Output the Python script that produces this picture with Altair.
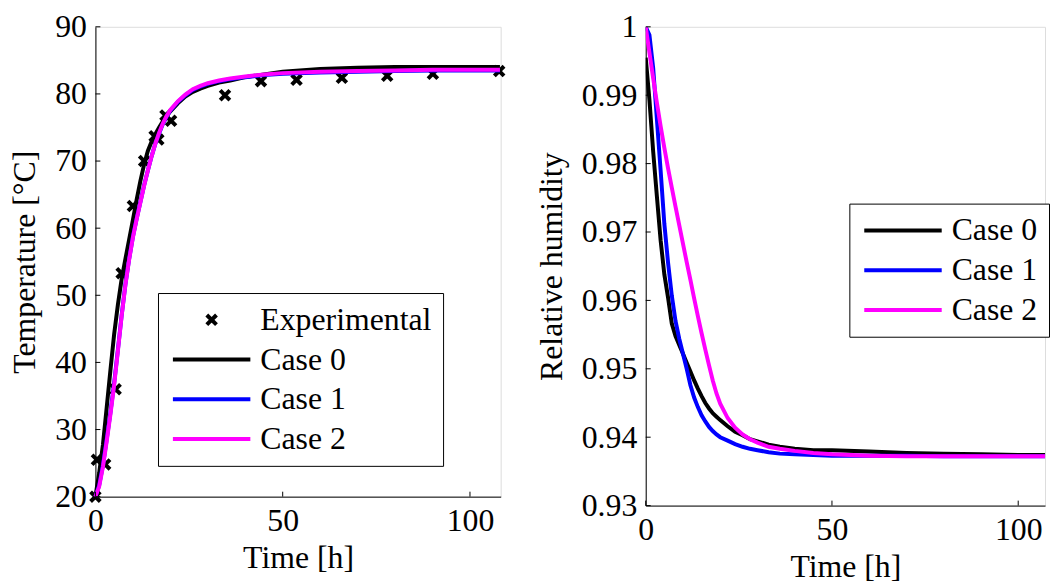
import altair as alt
import pandas as pd

# ---------------- data: left panel (temperature) ----------------
t_time = [0, 1, 2, 3, 4, 5, 6, 7, 8, 9, 10, 11, 12, 13, 14, 15, 16, 17, 18, 19, 20,
          22, 24, 26, 28, 30, 33, 36, 40, 45, 50, 60, 70, 80, 90, 100, 108]
t_case0 = [20, 23.5, 27.7, 33.2, 38.8, 44.2, 48.6, 52.4, 55.4, 58.3, 61.2, 64.2, 67.0, 69.5, 71.5, 72.9, 74.0,
           75.0, 75.9, 76.7, 77.4, 78.6, 79.6, 80.3, 80.8, 81.2, 81.7, 82.0, 82.5, 82.9, 83.3, 83.7, 83.9, 84.0,
           84.0, 84.0, 84.0]
t_case1 = [20, 21.7, 24.7, 28.5, 32.5, 36.9, 41.9, 47.0, 51.6, 55.4, 58.7, 61.4, 63.9, 66.4, 68.6, 70.7, 72.6,
           74.1, 75.5, 76.6, 77.5, 78.8, 79.8, 80.6, 81.1, 81.5, 81.9, 82.2, 82.5, 82.8, 83.0, 83.2, 83.3, 83.4,
           83.5, 83.5, 83.5]
t_case2 = [20, 21.5, 24.4, 28.2, 32.2, 36.6, 41.7, 46.9, 51.5, 55.3, 58.6, 61.3, 63.8, 66.3, 68.6, 70.7, 72.6,
           74.2, 75.6, 76.7, 77.6, 78.9, 79.9, 80.7, 81.2, 81.6, 82.0, 82.3, 82.6, 82.9, 83.1, 83.3, 83.4, 83.5,
           83.6, 83.6, 83.6]
exp_time = [0, 0.4, 2.6, 5.4, 7.0, 10.0, 13.0, 15.8, 16.8, 18.7, 20.2, 34.6, 44.2, 53.7, 65.8, 77.9, 90.1, 107.8]
exp_temp = [20.0, 25.5, 24.8, 36.0, 53.3, 63.3, 70.0, 73.7, 73.2, 76.8, 76.0, 79.8, 81.9, 82.1, 82.4, 82.7, 83.0, 83.4]
t_xticks = [0, 50, 100]
t_yticks = [20, 30, 40, 50, 60, 70, 80, 90]

# ---------------- data: right panel (relative humidity) ----------------
rh_time = [0, 1, 2, 3, 4, 5, 6, 7, 8, 9, 10, 11, 12, 13, 14, 15, 16, 17, 18, 19, 20,
           22, 24, 26, 28, 30, 33, 36, 40, 45, 50, 60, 70, 80, 90, 100, 108]
rh_case0 = [0.9955, 0.9893, 0.9818, 0.9752, 0.9688, 0.9638, 0.9604, 0.9566, 0.9548, 0.9535, 0.9522, 0.9509,
            0.9496, 0.9483, 0.9471, 0.9460, 0.9450, 0.9442, 0.9435, 0.9430, 0.9425, 0.9416, 0.9408, 0.9403,
            0.9397, 0.9394, 0.9389, 0.9386, 0.9383, 0.9381, 0.9381, 0.9379, 0.9377, 0.9376, 0.9375, 0.9374, 0.9374]
rh_case1 = [1.0, 0.9988, 0.9940, 0.9865, 0.9790, 0.9712, 0.9655, 0.9607, 0.9570, 0.9544, 0.9522, 0.9500,
            0.9476, 0.9458, 0.9444, 0.9432, 0.9423, 0.9415, 0.9409, 0.9404, 0.9400, 0.9395, 0.9390, 0.9386,
            0.9383, 0.9381, 0.9378, 0.9376, 0.9375, 0.9374, 0.9373, 0.9373, 0.9373, 0.9372, 0.9372, 0.9372, 0.9372]
rh_case2 = [1.0, 0.9962, 0.9925, 0.9889, 0.9855, 0.9823, 0.9793, 0.9765, 0.9737, 0.9710, 0.9683, 0.9656,
            0.9630, 0.9603, 0.9577, 0.9552, 0.9528, 0.9505, 0.9483, 0.9464, 0.9449, 0.9428, 0.9414, 0.9404,
            0.9397, 0.9392, 0.9386, 0.9383, 0.9380, 0.9377, 0.9375, 0.9373, 0.9372, 0.9372, 0.9372, 0.9372, 0.9372]
rh_xticks = [0, 50, 100]
rh_yticks = [0.93, 0.94, 0.95, 0.96, 0.97, 0.98, 0.99, 1.0]

series_T = ["Experimental", "Case 0", "Case 1", "Case 2"]
series_RH = ["Case 0", "Case 1", "Case 2"]
colors_T = ["#000000", "#000000", "#0000ff", "#ff00ff"]
colors_RH = ["#000000", "#0000ff", "#ff00ff"]

FONT = "Times New Roman, Liberation Serif, Times, serif"
FS = 32
TICK = 5
SYM = 380                       # symbol size -> unit radius r = sqrt(380)/2 = 9.75 px
R = SYM ** 0.5 / 2

LINE_PATH = "M-1.23,0L6.77,0"
XL, XR = 2.77, 0.5
X_PATH = f"M{XL - XR},{-XR}L{XL + XR},{XR}M{XL - XR},{XR}L{XL + XR},{-XR}"


def case_df(xs, ys, name, xname, yname):
    return pd.DataFrame({xname: xs, yname: ys, "series": name})


def make_legend(x, y):
    return alt.Legend(title=None, orient="none", legendX=x, legendY=y, strokeColor="black", fillColor="white",
                      padding=11, labelFont=FONT, labelFontSize=FS, labelColor="black", labelLimit=400,
                      symbolType=LINE_PATH, symbolSize=SYM, symbolStrokeWidth=4, symbolOpacity=1,
                      labelOffset=60, rowPadding=8)


def axis(title, values, orient, fmt=None):
    kw = dict(values=values, title=title, grid=False, ticks=False, domainColor="black",
              labelPadding=TICK + 4, labelFont=FONT, labelFontSize=FS, labelColor="black", labelFlush=False,
              labelOverlap=False, titleFont=FONT, titleFontSize=FS, titleFontWeight="normal",
              titleColor="black")
    kw["titlePadding"] = 6 if orient == "x" else 13
    if fmt:
        kw["format"] = fmt
    return alt.Axis(**kw)


# ---------------- left chart ----------------
sxT = alt.Scale(domain=[0, 108.2], nice=False, zero=False)
syT = alt.Scale(domain=[20, 90], nice=False, zero=False)
xT = alt.X("time:Q", scale=sxT, axis=axis("Time [h]", t_xticks, "x"))
yT = alt.Y("temp:Q", scale=syT, axis=axis("Temperature [°C]", t_yticks, "y"))
leg_T = make_legend(63, 268)
cT = alt.Color("series:N", scale=alt.Scale(domain=series_T, range=colors_T), legend=leg_T)
shT = alt.Shape("series:N", scale=alt.Scale(domain=series_T, range=[X_PATH, LINE_PATH, LINE_PATH, LINE_PATH]),
                legend=leg_T)
H_T, W_T = 473, 408

exp_df = pd.DataFrame({"time": exp_time, "temp": exp_temp, "series": "Experimental"})
pts = alt.Chart(exp_df).mark_point(size=SYM, filled=False, strokeWidth=4, opacity=1, clip=False,
                                   xOffset=-XL * R).encode(x=xT, y=yT, color=cT, shape=shT)
layers_T = [pts]
for xs, ys, name in [(t_time, t_case0, "Case 0"), (t_time, t_case1, "Case 1"), (t_time, t_case2, "Case 2")]:
    layers_T.append(alt.Chart(case_df(xs, ys, name, "time", "temp")).mark_line(strokeWidth=4).encode(
        x=xT, y=yT, color=cT))
tick_xT = alt.Chart(pd.DataFrame({"time": t_xticks})).mark_rule(color="black", strokeWidth=1).encode(
    x="time:Q", y=alt.value(H_T), y2=alt.value(H_T - TICK))
tick_yT = alt.Chart(pd.DataFrame({"temp": t_yticks})).mark_rule(color="black", strokeWidth=1).encode(
    y="temp:Q", x=alt.value(0), x2=alt.value(TICK))
left = alt.layer(*layers_T, tick_xT, tick_yT).properties(width=W_T, height=H_T)

# ---------------- right chart ----------------
sxR = alt.Scale(domain=[0, 107.2], nice=False, zero=False)
syR = alt.Scale(domain=[0.93, 1.0], nice=False, zero=False)
xR = alt.X("t:Q", scale=sxR, axis=axis("Time [h]", rh_xticks, "x"))
yR = alt.Y("rh:Q", scale=syR, axis=axis("Relative humidity", rh_yticks, "y", "~g"))
leg_R = make_legend(205, 178)
cR = alt.Color("series:N", scale=alt.Scale(domain=series_RH, range=colors_RH), legend=leg_R)
H_R, W_R = 482, 402
layers_R = []
for xs, ys, name in [(rh_time, rh_case0, "Case 0"), (rh_time, rh_case1, "Case 1"), (rh_time, rh_case2, "Case 2")]:
    layers_R.append(alt.Chart(case_df(xs, ys, name, "t", "rh")).mark_line(strokeWidth=4, clip=True).encode(
        x=xR, y=yR, color=cR))
tick_xR = alt.Chart(pd.DataFrame({"t": rh_xticks})).mark_rule(color="black", strokeWidth=1).encode(
    x="t:Q", y=alt.value(H_R), y2=alt.value(H_R - TICK))
tick_yR = alt.Chart(pd.DataFrame({"rh": rh_yticks})).mark_rule(color="black", strokeWidth=1).encode(
    y="rh:Q", x=alt.value(0), x2=alt.value(TICK))
right = alt.layer(*layers_R, tick_xR, tick_yR).properties(width=W_R, height=H_R)

chart = alt.hconcat(left, right, spacing=146, bounds="flush").resolve_scale(
    color="independent", shape="independent", x="independent", y="independent"
).properties(
    padding={"left": 0, "top": 0, "right": 0, "bottom": 0}
).configure_view(stroke=None).configure(font=FONT)

chart.save("out.html", embed_options={"renderer": "svg", "actions": False})
